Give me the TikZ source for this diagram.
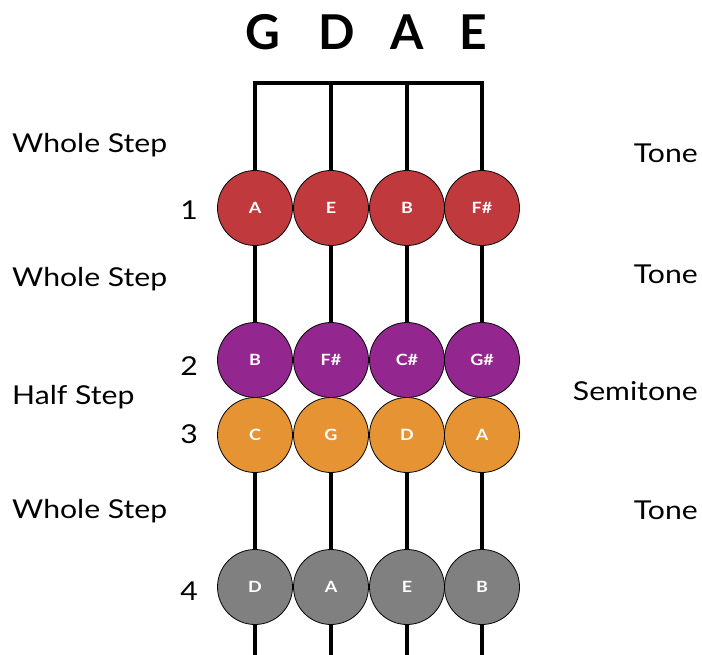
\documentclass[tikz,border=0pt]{standalone}
\usepackage{fontspec}
\setmainfont{Lato}
\newfontfamily\labelfont{Lato}[FakeStretch=1.16]
\definecolor{fretred}{HTML}{C0393D}
\definecolor{fretpurple}{HTML}{93278F}
\definecolor{fretorange}{HTML}{E69334}
\definecolor{fretgray}{HTML}{808080}
\begin{document}
\begin{tikzpicture}[x=1pt,y=-1pt,
  stringline/.style={line width=4.6pt},
  finger/.style={circle, draw=black, line width=0.8pt, minimum size=75pt, inner sep=0pt,
    text=white, font=\labelfont\fontsize{15.5}{16}\selectfont\bfseries},
  steplabel/.style={font=\labelfont\fontsize{26}{26}\selectfont, inner sep=0pt},
  fretnum/.style={font=\labelfont\fontsize{26}{26}\selectfont, inner sep=0pt, anchor=base},
  headlabel/.style={font=\fontsize{48}{48}\selectfont\bfseries, inner sep=0pt, anchor=base}]
\useasboundingbox (0,0) rectangle (702,655);
% string names
\node[headlabel] (hG) at (263,50) {G};
\node[headlabel] (hD) at (337,50) {D};
\node[headlabel] (hA) at (407,50) {A};
\node[headlabel] (hE) at (473,50) {E};
% nut and strings
\coordinate (t1) at (255,83);
\coordinate (t2) at (331,83);
\coordinate (t3) at (407,83);
\coordinate (t4) at (482,83);
\coordinate (b1) at (255,660);
\coordinate (b2) at (331,660);
\coordinate (b3) at (407,660);
\coordinate (b4) at (482,660);
\draw[stringline, line cap=rect] (t1) -- (t4);
\foreach \i in {1,2,3,4} \draw[stringline] (t\i) -- (b\i);
% row 1
\node[finger, fill=fretred] (r1a) at (255,208) {A};
\node[finger, fill=fretred] (r1b) at (331,208) {E};
\node[finger, fill=fretred] (r1c) at (407,208) {B};
\node[finger, fill=fretred] (r1d) at (482,208) {F\#};
% row 2
\node[finger, fill=fretpurple] (r2a) at (255,360) {B};
\node[finger, fill=fretpurple] (r2b) at (331,360) {F\#};
\node[finger, fill=fretpurple] (r2c) at (407,360) {C\#};
\node[finger, fill=fretpurple] (r2d) at (482,360) {G\#};
% row 3
\node[finger, fill=fretorange] (r3a) at (255,435) {C};
\node[finger, fill=fretorange] (r3b) at (331,435) {G};
\node[finger, fill=fretorange] (r3c) at (407,435) {D};
\node[finger, fill=fretorange] (r3d) at (482,435) {A};
% row 4
\node[finger, fill=fretgray] (r4a) at (255,587) {D};
\node[finger, fill=fretgray] (r4b) at (331,587) {A};
\node[finger, fill=fretgray] (r4c) at (407,587) {E};
\node[finger, fill=fretgray] (r4d) at (482,587) {B};
% finger numbers
\node[fretnum] (n1) at (189,220) {1};
\node[fretnum] (n2) at (189,375) {2};
\node[fretnum] (n3) at (189,443) {3};
\node[fretnum] (n4) at (189,600) {4};
% left labels
\node[steplabel, anchor=base west] (l1) at (12,153) {Whole Step};
\node[steplabel, anchor=base west] (l2) at (12,287) {Whole Step};
\node[steplabel, anchor=base west] (l3) at (12,404) {Half Step};
\node[steplabel, anchor=base west] (l4) at (12,518) {Whole Step};
% right labels
\node[steplabel, anchor=base east] (s1) at (698,163) {Tone};
\node[steplabel, anchor=base east] (s2) at (698,284) {Tone};
\node[steplabel, anchor=base east] (s3) at (698,400) {Semitone};
\node[steplabel, anchor=base east] (s4) at (698,519) {Tone};
\end{tikzpicture}
\end{document}
